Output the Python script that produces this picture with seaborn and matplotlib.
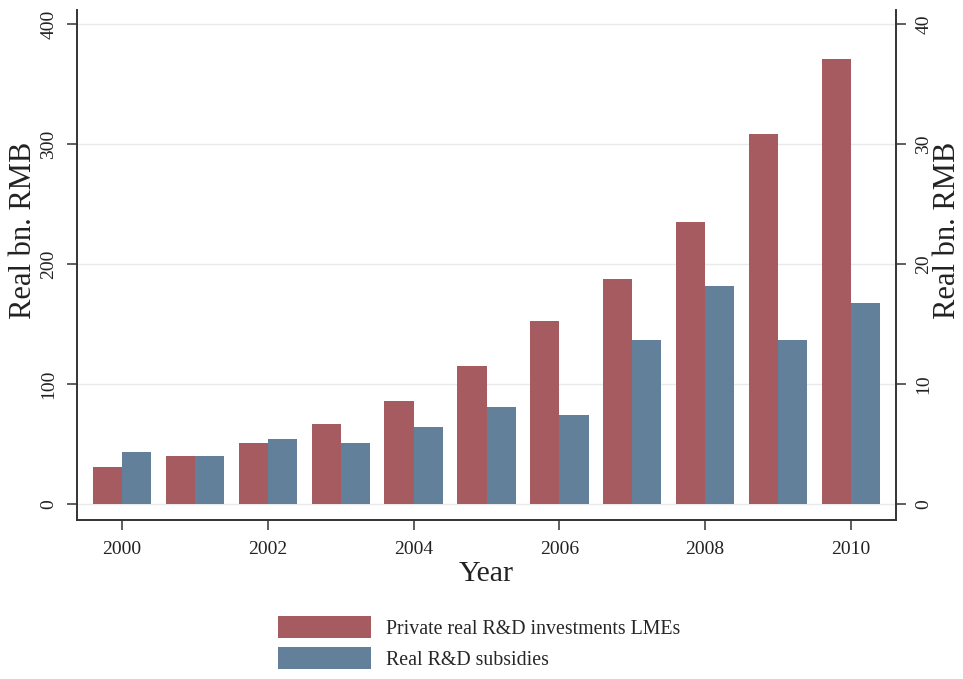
import numpy as np
import pandas as pd
import matplotlib
matplotlib.use("Agg")
import matplotlib.pyplot as plt
import seaborn as sns
from matplotlib.patches import Patch

# Annual figures, real bn. RMB
years = [2000, 2001, 2002, 2003, 2004, 2005, 2006, 2007, 2008, 2009, 2010]
private_rd = [30.6, 40.1, 51.2, 66.5, 86.0, 115.2, 152.8, 187.8, 234.8, 308.8, 371.2]
subsidies = [4.3, 4.0, 5.4, 5.1, 6.45, 8.1, 7.4, 13.7, 18.2, 13.7, 16.8]

series_names = ["Private real R&D investments LMEs", "Real R&D subsidies"]
series_colors = ["#A65B61", "#63809A"]
left_ticks = [0, 100, 200, 300, 400]
right_ticks = [0, 10, 20, 30, 40]
year_ticks = [2000, 2002, 2004, 2006, 2008, 2010]

sns.set_theme(style="white")
plt.rcParams["font.family"] = ["Liberation Serif", "DejaVu Serif"]

palette = dict(zip(series_names, series_colors))
n = len(years)
left_df = pd.DataFrame({
    "Year": years + years,
    "value": private_rd + [np.nan] * n,
    "series": [series_names[0]] * n + [series_names[1]] * n,
})
right_df = pd.DataFrame({
    "Year": years + years,
    "value": [np.nan] * n + subsidies,
    "series": [series_names[0]] * n + [series_names[1]] * n,
})

fig = plt.figure(figsize=(9.63, 6.79), dpi=100)
ax = fig.add_axes([77 / 963, 1 - 520 / 679, (896 - 77) / 963, (520 - 10) / 679])
ax2 = ax.twinx()

# grid behind everything
ax.set_axisbelow(True)
ax.yaxis.grid(True, color="#EAEAEA", linewidth=1.0)
ax.xaxis.grid(False)

sns.barplot(data=left_df, x="Year", y="value", hue="series", hue_order=series_names,
            palette=palette, width=0.8, saturation=1, legend=False, ax=ax,
            linewidth=0, errorbar=None)
sns.barplot(data=right_df, x="Year", y="value", hue="series", hue_order=series_names,
            palette=palette, width=0.8, saturation=1, legend=False, ax=ax2,
            linewidth=0, errorbar=None)

ymin, ymax = -13.4, 412
ax.set_ylim(ymin, ymax)
ax2.set_ylim(ymin / 10, ymax / 10)
ax.set_xlim(-0.62, n - 1 + 0.62)

ax.set_yticks(left_ticks)
ax.set_yticklabels([str(t) for t in left_ticks])
ax2.set_yticks(right_ticks)
ax2.set_yticklabels([str(t) for t in right_ticks])
ax2.grid(False)

pos = [years.index(y) for y in year_ticks]
ax.set_xticks(pos)
ax.set_xticklabels([str(y) for y in year_ticks])

tick_font = 14
for a in (ax, ax2):
    a.tick_params(axis="both", which="major", direction="out", length=7, width=1.1,
                  color="#333333", labelsize=tick_font, labelcolor="#222222", pad=7)
    for s in a.spines.values():
        s.set_color("#333333")
        s.set_linewidth(1.2)
    a.spines["top"].set_visible(False)

ax.tick_params(axis="y", labelrotation=90, left=True)
ax2.tick_params(axis="y", labelrotation=90, right=True)
ax.tick_params(axis="x", bottom=True, pad=8)
for lab in ax.get_yticklabels() + ax2.get_yticklabels():
    lab.set_va("center")

ax.set_xlabel("Year", fontsize=21.5, color="#222222", labelpad=2)
ax.set_ylabel("Real bn. RMB", fontsize=22, color="#222222")
ax2.set_ylabel("Real bn. RMB", fontsize=22, color="#222222")
ax.yaxis.label.set_verticalalignment("center")
ax2.yaxis.label.set_verticalalignment("center")
ax.yaxis.set_label_coords((24 - 77) / 819, 0.567)
ax2.yaxis.set_label_coords((947 - 77) / 819, 0.567)

handles = [Patch(facecolor=c, edgecolor="none") for c in series_colors]
fig.legend(handles, series_names, loc="center", bbox_to_anchor=(479 / 963, 1 - 643 / 679),
           frameon=False, fontsize=14.3, handlelength=4.7, handleheight=1.3,
           labelspacing=0.45, handletextpad=0.75, borderpad=0)

fig.savefig("out.png", dpi=100, facecolor="white")
